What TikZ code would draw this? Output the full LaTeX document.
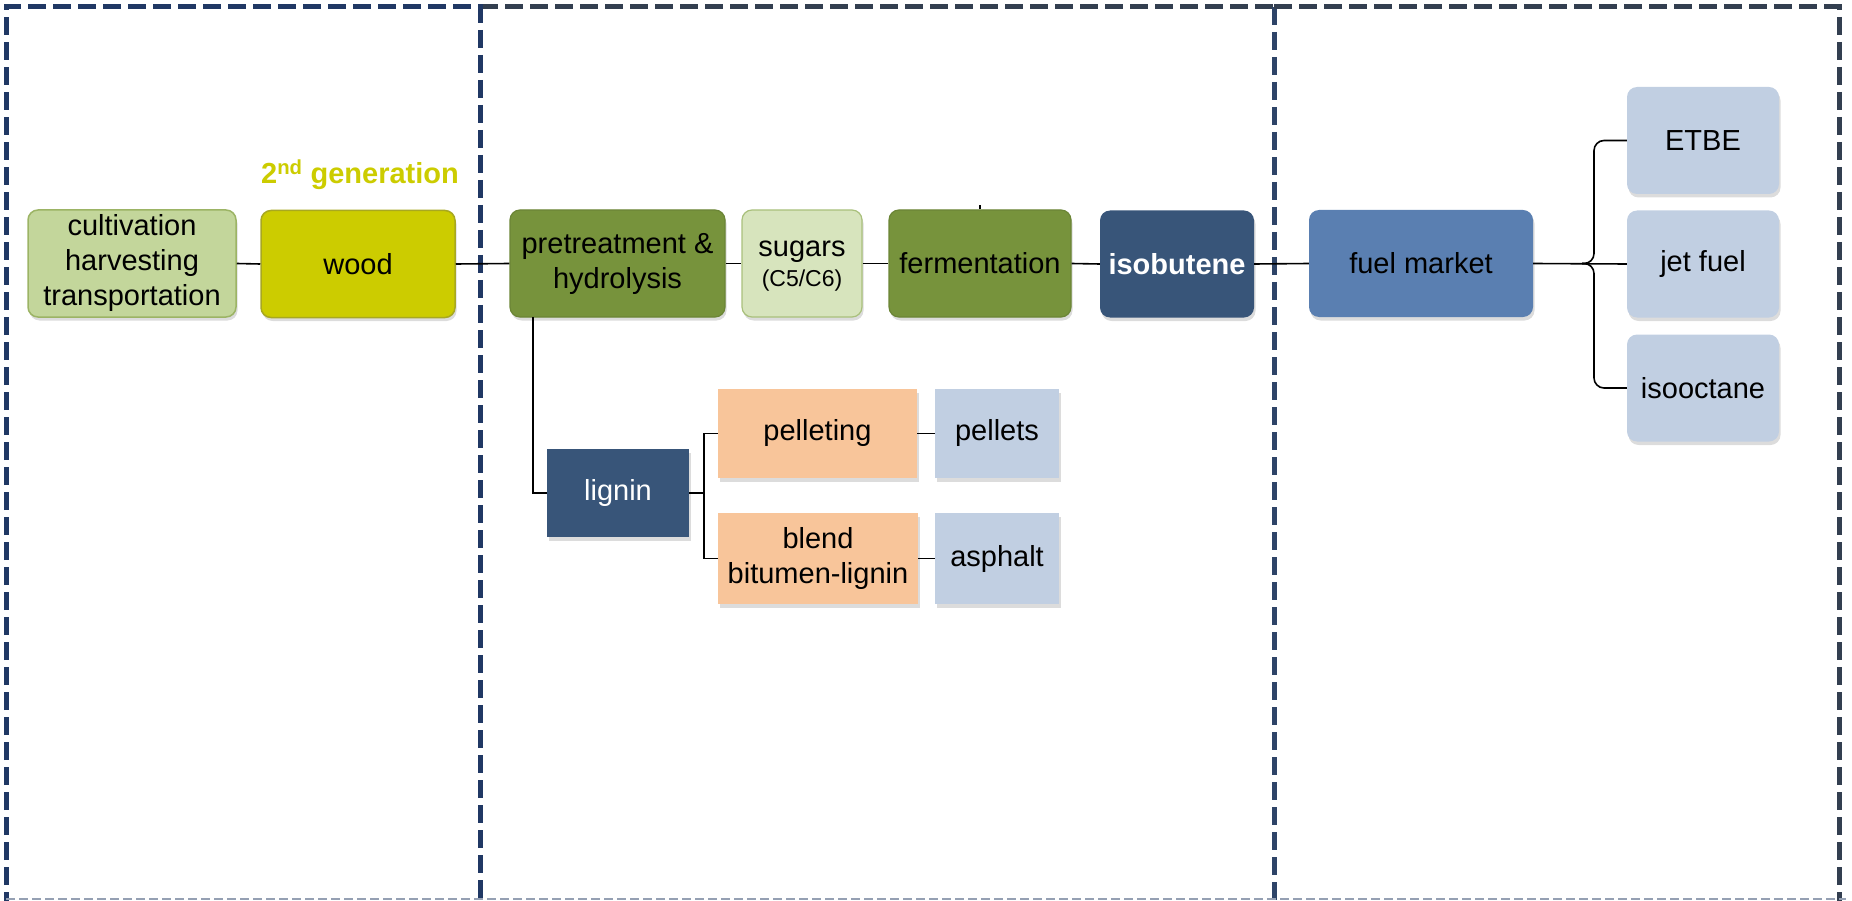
\documentclass[tikz,border=0pt]{standalone}
\usepackage{fontspec}
\setmainfont{Liberation Sans}
\usetikzlibrary{shadows}
\definecolor{navyA}{HTML}{203864}
\definecolor{navyB}{HTML}{2E4468}
\definecolor{slateC}{HTML}{333F50}
\definecolor{cultfill}{HTML}{C3D69B}
\definecolor{cultdraw}{HTML}{9CB465}
\definecolor{woodfill}{HTML}{CCCC00}
\definecolor{wooddraw}{HTML}{A8A820}
\definecolor{olive}{HTML}{77933C}
\definecolor{olivedraw}{HTML}{6B8536}
\definecolor{sugfill}{HTML}{D7E4BD}
\definecolor{sugdraw}{HTML}{A9C07C}
\definecolor{darkblue}{HTML}{385579}
\definecolor{midblue}{HTML}{5A7FB1}
\definecolor{lightblue}{HTML}{C1CFE2}
\definecolor{peach}{HTML}{F8C59A}
\definecolor{gengreen}{HTML}{CCCC00}
\definecolor{bottomgray}{HTML}{95A0B3}
\begin{document}
\begin{tikzpicture}[x=1pt,y=-1pt,
  frameline/.style={line width=5pt, dash pattern=on 18pt off 7pt},
  txt/.style={font=\fontsize{29}{35}\selectfont},
  box/.style={txt, rounded corners=10pt, minimum height=107pt, inner sep=0pt, align=center,
    drop shadow={shadow xshift=1.5pt, shadow yshift=-3.5pt, opacity=0.28}},
  sqbox/.style={txt, sharp corners, minimum height=89pt, inner sep=0pt, align=center,
    drop shadow={shadow xshift=1.5pt, shadow yshift=-3.5pt, opacity=0.28}},
  conn/.style={line width=1.6pt, black}]
\useasboundingbox (0,0) rectangle (1852,901);
% frames
\draw[frameline, slateC] (480,7) -- (1274,7);
\draw[frameline, navyB] (1274,7) -- (1274,910);
\draw[frameline, slateC] (1274,7) -- (1839,7) -- (1839,910);
\draw[frameline, navyA] (6,910) -- (6,7) -- (480,7) -- (480,910);
\draw[bottomgray, line width=1.5pt, dash pattern=on 9pt off 4pt] (6,899) -- (1846,899);
% title
\node[txt, font=\fontsize{29}{35}\selectfont\bfseries, text=gengreen] (gen) at (360,175) {2\textsuperscript{nd} generation};
% main chain
\node[box, fill=cultfill, draw=cultdraw, line width=1.5pt, minimum width=208pt] (cult) at (132,263.5) {cultivation\\harvesting\\transportation};
\node[box, fill=woodfill, draw=wooddraw, line width=1.5pt, minimum width=194pt] (wood) at (358,264) {wood};
\node[box, fill=olive, draw=olivedraw, line width=1.2pt, minimum width=215pt] (pre) at (617.5,263.5) {pretreatment \&\\hydrolysis};
\node[box, fill=sugfill, draw=sugdraw, line width=1.2pt, minimum width=120pt, text depth=0pt] (sug) at (802,263.5) {\raisebox{-4pt}{sugars}\\[-1pt]{\fontsize{23}{28}\selectfont (C5/C6)}};
\node[box, fill=olive, draw=olivedraw, line width=1.2pt, minimum width=182pt] (ferm) at (980,263.5) {fermentation};
\node[box, fill=darkblue, text=white, minimum width=154pt, font=\fontsize{29}{35}\selectfont\bfseries] (iso) at (1177,264) {isobutene};
\node[box, fill=midblue, minimum width=224pt] (fm) at (1421,263.5) {fuel market};
\node[box, fill=lightblue, minimum width=152pt] (etbe) at (1703,140.5) {ETBE};
\node[box, fill=lightblue, minimum width=152pt] (jet) at (1703,264) {jet fuel};
\node[box, fill=lightblue, minimum width=152pt] (isooc) at (1703,388) {isooctane};
% lignin branch
\node[sqbox, fill=darkblue, text=white, minimum width=142pt, minimum height=88pt] (lig) at (618,493) {lignin};
\node[sqbox, fill=peach, minimum width=199pt] (pel) at (817.5,433.5) {pelleting};
\node[sqbox, fill=peach, minimum width=200pt, minimum height=91pt] (bl) at (818,558.5) {blend\\bitumen-lignin};
\node[sqbox, fill=lightblue, minimum width=124pt] (plt) at (997,433.5) {pellets};
\node[sqbox, fill=lightblue, minimum width=124pt, minimum height=91pt] (asp) at (997,558.5) {asphalt};
% connectors
\draw[conn] (cult.east) -- (wood.west);
\draw[conn] (wood.east) -- (pre.west);
\draw[conn] (pre.east) -- (sug.west);
\draw[conn] (sug.east) -- (ferm.west);
\draw[conn] (ferm.east) -- (iso.west);
\draw[conn] (iso.east) -- (fm.west);
\draw[conn] (fm.east) -- (jet.west);
\draw[conn] (ferm.north) -- ++(0,-4);
\coordinate (pd) at (533,317);
\draw[conn] (pd) |- (lig.west);
\coordinate (lj) at (704,493);
\draw[conn] (lig.east) -- (lj);
\draw[conn] (pel.west) -| (lj) |- (bl.west);
\draw[conn] (pel.east) -- (plt.west);
\draw[conn] (bl.east) -- (asp.west);
\coordinate (bc) at (1594,263.5);
\coordinate (bcusp) at (1582,263.5);
\draw[conn, rounded corners=10pt] (etbe.west) -| (bc) -- (bcusp);
\draw[conn, rounded corners=10pt] (isooc.west) -| (bc) -- (bcusp);
\end{tikzpicture}
\end{document}
